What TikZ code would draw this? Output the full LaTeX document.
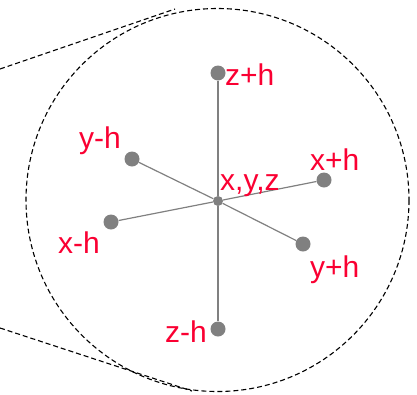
\documentclass[tikz,border=0pt]{standalone}
\usepackage{fontspec}
\setmainfont{Liberation Sans}

\definecolor{labelred}{RGB}{250,0,50}
\definecolor{stickgray}{RGB}{128,128,128}

\begin{document}
\begin{tikzpicture}[x=1pt,y=-1pt,
    pt/.style={circle,fill=stickgray,inner sep=0pt,minimum size=15pt},
    lbl/.style={text=labelred,inner sep=0pt,anchor=base west,
        font=\fontsize{30}{36}\selectfont},
    stick/.style={draw=stickgray,line width=1.2pt},
    zoomline/.style={dash pattern=on 5pt off 3pt,line width=1.1pt}]
    \useasboundingbox (0,0) rectangle (417,394);
    % Zoom circle and view lines
    \draw[zoomline] (217.5,200) circle[radius=191.5];
    \coordinate (top0) at (0,69);
    \coordinate (top1) at (175,9);
    \coordinate (bot0) at (0,328);
    \coordinate (bot1) at (192,391);
    \draw[zoomline] (top0) -- (top1);
    \draw[zoomline] (bot0) -- (bot1);
    % Stencil points
    \node[pt,minimum size=10pt] (c) at (218,201) {};
    \node[pt] (zp) at (218,73) {};
    \node[pt] (zm) at (218,329) {};
    \node[pt] (ym) at (132,159) {};
    \node[pt] (yp) at (303,244) {};
    \node[pt] (xm) at (111,222) {};
    \node[pt] (xp) at (324,180) {};
    % Sticks
    \foreach \n in {zp,zm,ym,yp,xm,xp}
        \draw[stick] (c) -- (\n);
    % Labels
    \node[lbl] (lc) at (220,190) {x,y,z};
    \node[lbl] (lzp) at (225,85) {z+h};
    \node[lbl] (lzm) at (165,342) {z-h};
    \node[lbl] (lym) at (79,148) {y-h};
    \node[lbl] (lyp) at (310,277) {y+h};
    \node[lbl] (lxm) at (58,253) {x-h};
    \node[lbl] (lxp) at (310,170) {x+h};
\end{tikzpicture}
\end{document}
